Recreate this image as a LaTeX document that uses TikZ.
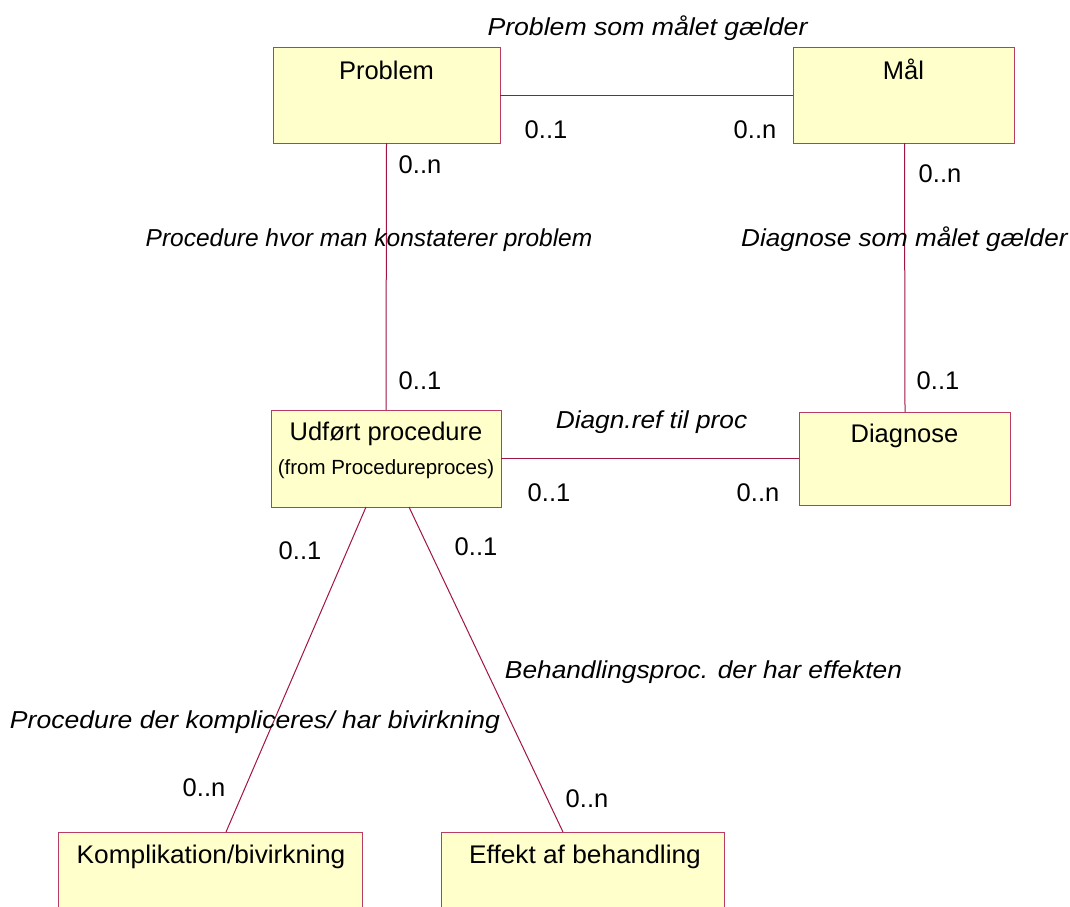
\documentclass[tikz,border=0pt]{standalone}
\usepackage{fontspec}
\setmainfont{Liberation Sans}
\definecolor{umlline}{RGB}{160,20,70}
\definecolor{umlborder}{RGB}{185,60,100}
\definecolor{umlfill}{RGB}{255,255,204}
\newcommand{\wide}[2]{\scalebox{#1}[1]{#2}}
\begin{document}
\begin{tikzpicture}[x=1pt,y=-1pt,
  classbox/.style={draw=umlborder,fill=umlfill,line width=1pt,rectangle,inner sep=0pt,outer sep=0pt},
  assoc/.style={draw=umlline,line width=1pt},
  title/.style={anchor=base,inner sep=0pt,font=\fontsize{25.5}{30}\selectfont},
  sub/.style={anchor=base,inner sep=0pt,font=\fontsize{20.5}{24}\selectfont},
  mult/.style={anchor=base,inner sep=0pt,font=\fontsize{25.5}{30}\selectfont},
  role/.style={anchor=base,inner sep=0pt,font=\fontsize{24.5}{29}\selectfont\itshape}]
\useasboundingbox (0,0) rectangle (1070,906);
\fill[white] (0,0) rectangle (1070,906);

% boxes
\node[classbox,minimum width=227pt,minimum height=96pt] (prob) at (386.5,95) {};
\node[classbox,minimum width=221pt,minimum height=96pt] (mal) at (903.5,95) {};
\node[classbox,minimum width=230pt,minimum height=97pt] (udf) at (386,458.5) {};
\node[classbox,minimum width=211pt,minimum height=93pt] (diag) at (904.5,458.5) {};
\node[classbox,minimum width=304pt,minimum height=96pt] (komp) at (210,880) {};
\node[classbox,minimum width=283pt,minimum height=96pt] (eff) at (582.5,880) {};

% box titles
\node[title] (tprob) at (386.5,79) {Problem};
\node[title] (tmal) at (903.5,79) {Mål};
\node[title] (tudf) at (386,440) {Udført procedure};
\node[sub] (tudfs) at (386,474) {(from Procedureproces)};
\node[title] (tdiag) at (904.5,442) {Diagnose};
\node[title] (tkomp) at (211,863) {\wide{1.03}{Komplikation/bivirkning}};
\node[title] (teff) at (585,863) {\wide{1.03}{Effekt af behandling}};

% connectors
\draw[assoc] (prob.east) -- (mal.west);
\draw[assoc] (prob.south) -- (udf.north);
\draw[assoc] ([xshift=1pt]mal.south) -- ([xshift=0.5pt]diag.north);
\draw[assoc] (udf.east) -- (diag.west);
\draw[assoc] ([xshift=-20pt]udf.south) -- ([xshift=16pt]komp.north);
\draw[assoc] ([xshift=23pt]udf.south) -- ([xshift=-19.5pt]eff.north);

% role names
\node[role] (r1) at (647.5,35) {\wide{1.088}{Problem som målet gælder}};
\node[role] (r2) at (369,246) {Procedure hvor man konstaterer problem};
\node[role,anchor=base west] (r3) at (741,246) {\wide{1.065}{Diagnose som målet gælder}};
\node[role] (r4) at (651.5,428) {\wide{1.073}{Diagn.ref til proc}};
\node[role] (r5) at (703.5,678) {\wide{1.073}{Behandlingsproc. der har effekten}};
\node[role] (r6) at (255,728) {\wide{1.084}{Procedure der kompliceres/ har bivirkning}};

% multiplicities
\node[mult] (m1) at (546,138) {0..1};
\node[mult] (m2) at (755,138) {0..n};
\node[mult] (m3) at (420,173) {0..n};
\node[mult] (m4) at (940,182) {0..n};
\node[mult] (m5) at (420,389) {0..1};
\node[mult] (m6) at (938,389) {0..1};
\node[mult] (m7) at (549,501) {0..1};
\node[mult] (m8) at (758,501) {0..n};
\node[mult] (m9) at (300,559) {0..1};
\node[mult] (m10) at (476,555) {0..1};
\node[mult] (m11) at (204,796) {0..n};
\node[mult] (m12) at (587,807) {0..n};
\end{tikzpicture}
\end{document}
